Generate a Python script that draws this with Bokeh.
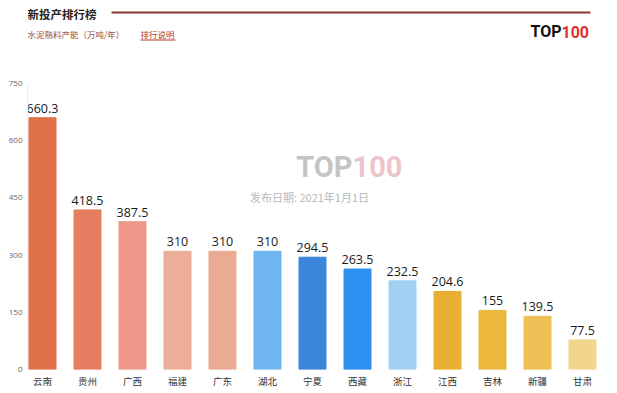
from bokeh.plotting import figure
from bokeh.layouts import column
from bokeh.models import ColumnDataSource, FactorRange, Range1d, Label, FixedTicker
from bokeh.embed import file_html
from bokeh.resources import INLINE
from bokeh.core.properties import value

provinces = ["云南", "贵州", "广西", "福建", "广东", "湖北", "宁夏", "西藏", "浙江", "江西", "吉林", "新疆", "甘肃"]
capacity = [660.3, 418.5, 387.5, 310, 310, 310, 294.5, 263.5, 232.5, 204.6, 155, 139.5, 77.5]
value_labels = ["660.3", "418.5", "387.5", "310", "310", "310", "294.5", "263.5", "232.5", "204.6", "155", "139.5", "77.5"]
bar_colors = ["#E07048", "#E57E60", "#EE9688", "#ECAE96", "#EBAA92", "#70B6F0", "#3B86DC",
              "#2E91F2", "#A2D1F3", "#EAAE30", "#EBB73C", "#EDBF55", "#F3D68E"]
y_ticks = [0, 150, 300, 450, 600, 750]

CJK = "Noto Sans CJK SC"
W = 609
HEAD_H = 75
FL, FR = 27, 597  # page x of plot frame left / right (shared by both figures)

# ---------------- header ----------------
h = figure(width=W, height=HEAD_H, output_backend="svg", toolbar_location=None,
           x_range=Range1d(FL, FR), y_range=Range1d(HEAD_H, 0),
           min_border_left=FL, min_border_right=W - FR, min_border_top=0, min_border_bottom=0,
           x_axis_location=None, y_axis_location=None)
h.outline_line_color = None
h.grid.grid_line_color = None
h.background_fill_color = "white"
h.border_fill_color = "white"


def hlabel(x, y, text, size, color, font=CJK, style="normal", align="left"):
    h.add_layout(Label(x=x, y=y, text=text, text_font=font, text_font_size=f"{size}px",
                       text_color=color, text_font_style=style, text_align=align,
                       text_baseline="middle"))


hlabel(27, 13, "新投产排行榜", 11.5, "#222222", style="bold")
h.segment(x0=[111], y0=[12], x1=[590], y1=[12], line_color="#8B3A30", line_width=2)
hlabel(27, 33, "水泥熟料产能（万吨/年）", 8.5, "#A05040")
hlabel(140, 33, "排行说明", 8.5, "#B03A30")
h.segment(x0=[140], y0=[39.5], x1=[175], y1=[39.5], line_color="#B03A30", line_width=1)
hlabel(561, 31, "TOP", 16, "#111111", font="Roboto", style="bold", align="right")
hlabel(561, 31, "100", 16, "#E0312F", font="Roboto", style="bold", align="left")

# ---------------- chart ----------------
src = ColumnDataSource(dict(x=provinces, top=capacity, lab=value_labels, color=bar_colors))

p = figure(width=W, height=315, output_backend="svg", toolbar_location=None,
           x_range=FactorRange(factors=provinces, range_padding=-0.1667, range_padding_units="absolute"),
           y_range=Range1d(0, 750),
           min_border_left=FL, min_border_right=W - FR, min_border_top=8, min_border_bottom=20)
p.outline_line_color = None
p.xgrid.grid_line_color = None
p.ygrid.grid_line_color = None
p.background_fill_color = "white"
p.border_fill_color = "white"

FB = 370  # page y of frame bottom


def wlabel(px, py, text, size, color, font=CJK, style="normal", align="left", alpha=1.0):
    p.add_layout(Label(x=px - FL, y=FB - py, x_units="screen", y_units="screen", text=text,
                       text_font=font, text_font_size=f"{size}px", text_color=color,
                       text_font_style=style, text_align=align, text_baseline="middle",
                       text_alpha=alpha, level="underlay"))


# centre watermark (behind bars)
wlabel(352, 167, "TOP", 29, "#8a8a8a", font="Roboto", style="bold", align="right", alpha=0.5)
wlabel(352, 167, "100", 29, "#d98a96", font="Roboto", style="bold", align="left", alpha=0.5)
wlabel(309, 197, "发布日期: 2021年1月1日", 11, "#b8b8b8", align="center")

p.vbar(x="x", top="top", width=0.6, color="color", source=src)
p.text(x="x", y="top", text="lab", source=src, text_align="center", text_baseline="bottom",
       y_offset=-5, text_font=value("Open Sans"), text_font_size="12.5px", text_color="#1a1a1a")

p.yaxis.ticker = FixedTicker(ticks=y_ticks)
p.yaxis.major_tick_line_color = None
p.yaxis.major_tick_out = 0
p.yaxis.minor_tick_line_color = None
p.yaxis.axis_line_color = "#eeeeee"
p.yaxis.major_label_text_font = "Open Sans"
p.yaxis.major_label_text_font_size = "8px"
p.yaxis.major_label_text_color = "#666666"
p.yaxis.major_label_standoff = 5

p.xaxis.major_tick_line_color = None
p.xaxis.major_tick_out = 0
p.xaxis.major_tick_in = 0
p.xaxis.axis_line_color = None
p.xaxis.major_label_text_font = CJK
p.xaxis.major_label_text_font_size = "9.5px"
p.xaxis.major_label_text_color = "#333333"
p.xaxis.major_label_standoff = 4

layout = column(h, p, spacing=0)
open("out.html", "w").write(file_html(layout, INLINE))
